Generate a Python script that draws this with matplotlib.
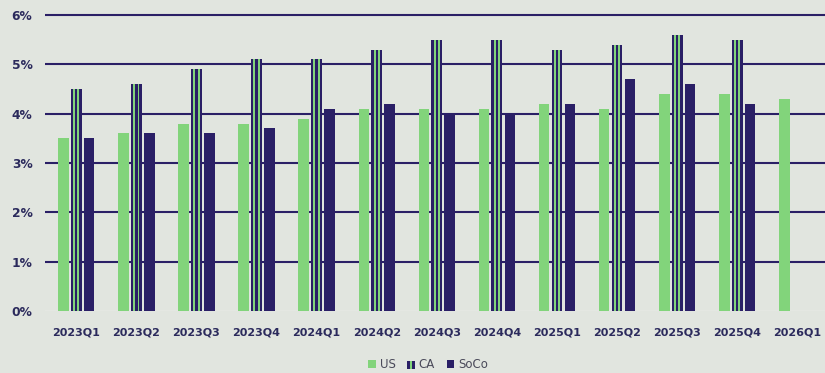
import matplotlib
matplotlib.use("Agg")
import matplotlib.pyplot as plt
import numpy as np
from matplotlib.patches import Patch
from matplotlib.legend_handler import HandlerBase
from matplotlib.patches import Rectangle

plt.rcParams['font.family'] = ['DejaVu Sans']

categories = ["2023Q1", "2023Q2", "2023Q3", "2023Q4", "2024Q1", "2024Q2", "2024Q3",
              "2024Q4", "2025Q1", "2025Q2", "2025Q3", "2025Q4", "2026Q1"]
us = [3.5, 3.6, 3.8, 3.8, 3.9, 4.1, 4.1, 4.1, 4.2, 4.1, 4.4, 4.4, 4.3]
ca = [4.5, 4.6, 4.9, 5.1, 5.1, 5.3, 5.5, 5.5, 5.3, 5.4, 5.6, 5.5, np.nan]
soco = [3.5, 3.6, 3.6, 3.7, 4.1, 4.2, 4.0, 4.0, 4.2, 4.7, 4.6, 4.2, np.nan]
yticks = [0, 1, 2, 3, 4, 5, 6]

BG = "#e1e5df"
GREEN = "#82d47b"
NAVY = "#2a1f66"
TXT = "#2b2a5c"

fig = plt.figure(figsize=(8.25, 3.73), dpi=100, facecolor=BG)
ax = fig.add_axes([45/825, (373-311)/373, 780/825, (311-13)/373])
ax.set_facecolor(BG)

x = np.arange(len(categories))
w = 0.175
off = 0.215
ax.bar(x - off, us, width=w, color=GREEN, zorder=3)
ax.bar(x, ca, width=0.18, color=NAVY, zorder=3)
ax.bar(x - 0.036, ca, width=0.032, color=GREEN, zorder=4)
ax.bar(x + 0.036, ca, width=0.032, color=GREEN, zorder=4)
ax.bar(x + off, soco, width=w, color=NAVY, zorder=3)

ax.set_xlim(-0.52, 12.46)
ax.set_ylim(0, 6.04)
for yv in yticks[1:]:
    ax.axhline(yv, color=NAVY, lw=1.5, zorder=1)
ax.axhline(0, color="#f2f4f0", lw=1.0, zorder=1)

ax.set_yticks(yticks)
ax.set_yticklabels([f"{v}%" for v in yticks], fontsize=8.8, fontweight="bold", color=TXT)
ax.set_xticks(x)
ax.set_xticklabels(categories, fontsize=8, fontweight="bold", color=TXT)
ax.tick_params(axis="both", length=0)
ax.tick_params(axis="y", pad=9)
ax.tick_params(axis="x", pad=12)
for s in ax.spines.values():
    s.set_visible(False)


class StripeHandler(HandlerBase):
    def create_artists(self, legend, orig_handle, xd, yd, width, height, fontsize, trans):
        s = height
        x0 = xd + (width - s) / 2
        arts = [Rectangle((x0, yd), s, s, facecolor=NAVY, transform=trans)]
        arts.append(Rectangle((x0 + s*0.4, yd), s*0.2, s, facecolor=GREEN, transform=trans))
        return arts


h_us = Patch(facecolor=GREEN)
h_ca = Patch(facecolor=NAVY)
h_soco = Patch(facecolor=NAVY)
leg = fig.legend([h_us, h_ca, h_soco], ["US", "CA", "SoCo"], loc="center",
                 bbox_to_anchor=(428/825, 1 - 365/373), ncol=3, frameon=False,
                 fontsize=8.5, handlelength=0.65, handleheight=0.65, handletextpad=0.3,
                 columnspacing=1.0, handler_map={h_ca: StripeHandler()})
for t in leg.get_texts():
    t.set_color("#4a4a5a")

fig.savefig("out.png", dpi=100, facecolor=BG)
